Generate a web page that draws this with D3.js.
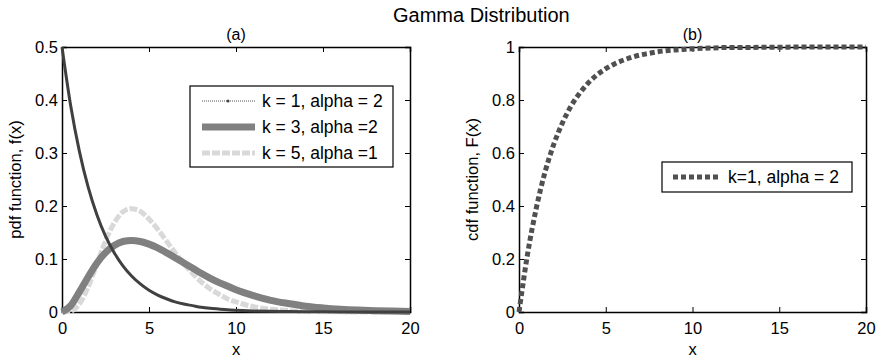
<!DOCTYPE html>
<html>
<head>
<meta charset="utf-8">
<script src="https://cdn.jsdelivr.net/npm/d3@7"></script>
<style>
  body { margin: 0; background: #fff; }
  text { font-family: "Liberation Sans", Arial, sans-serif; fill: #000; }
  .axis path, .axis line { stroke: #000; }
</style>
</head>
<body>
<div id="chart"></div>
<script>
// x samples used for all curves
var xs = [0, 0.5, 1, 1.5, 2, 2.5, 3, 3.5, 4, 4.5, 5, 5.5, 6, 6.5, 7, 7.5, 8, 8.5, 9, 9.5, 10,
          11, 12, 13, 14, 15, 16, 17, 18, 19, 20];

// pdf values
var pdfK1 = [0.5, 0.389, 0.303, 0.236, 0.184, 0.143, 0.112, 0.087, 0.068, 0.053, 0.041, 0.032, 0.025, 0.019, 0.015, 0.012, 0.009, 0.007, 0.0056, 0.0043, 0.0034,
             0.002, 0.0012, 0.0008, 0.0005, 0.0003, 0.0002, 0.0001, 0.0001, 0, 0];
var pdfK3 = [0, 0.012, 0.038, 0.066, 0.092, 0.112, 0.1255, 0.133, 0.135, 0.133, 0.128, 0.121, 0.112, 0.1025, 0.0925, 0.083, 0.073, 0.064, 0.056, 0.049, 0.042,
             0.031, 0.022, 0.016, 0.011, 0.0078, 0.0054, 0.0037, 0.0025, 0.0017, 0.0011];
var pdfK5 = [0, 0.0016, 0.015, 0.047, 0.090, 0.134, 0.168, 0.189, 0.195, 0.190, 0.1755, 0.156, 0.134, 0.112, 0.091, 0.073, 0.057, 0.044, 0.034, 0.025, 0.019,
             0.010, 0.0053, 0.0027, 0.0013, 0.0006, 0.0003, 0.0001, 0, 0, 0];
// cdf values
var cdfK1 = [0, 0.221, 0.393, 0.528, 0.632, 0.713, 0.777, 0.826, 0.865, 0.895, 0.918, 0.936, 0.950, 0.961, 0.970, 0.976, 0.982, 0.986, 0.989, 0.991, 0.993,
             0.996, 0.998, 0.998, 0.999, 0.999, 1, 1, 1, 1, 1];

var pdfLabels = ["k = 1, alpha = 2", "k = 3, alpha =2", "k = 5, alpha =1"];
var cdfLabels = ["k=1, alpha = 2"];
var xTicks = [0, 5, 10, 15, 20];
var pdfTicks = [0, 0.1, 0.2, 0.3, 0.4, 0.5];
var cdfTicks = [0, 0.2, 0.4, 0.6, 0.8, 1];

var W = 881, H = 361;
var svg = d3.select("#chart").append("svg").attr("width", W).attr("height", H);

svg.append("text").attr("x", 393).attr("y", 22)
  .style("font-size", "20px").text("Gamma Distribution");

var pdfStyles = [
  { color: "#404040", width: 3, dash: null },
  { color: "#808080", width: 7, dash: null },
  { color: "#d9d9d9", width: 5, dash: "8,2" }
];

function panel(left, right, top, bottom, yMax, yTicks, title, ylab) {
  var x = d3.scaleLinear().domain([0, 20]).range([left, right]);
  var y = d3.scaleLinear().domain([0, yMax]).range([bottom, top]);
  var fmt = function(d) { return d3.format("~g")(d); };
  svg.append("g").attr("class", "axis").attr("transform", "translate(0," + bottom + ")")
    .call(d3.axisBottom(x).tickValues(xTicks).tickSize(-5).tickPadding(10).tickFormat(fmt));
  svg.append("g").attr("class", "axis").attr("transform", "translate(0," + top + ")")
    .call(d3.axisTop(x).tickValues(xTicks).tickSize(-5).tickFormat(""));
  svg.append("g").attr("class", "axis").attr("transform", "translate(" + left + ",0)")
    .call(d3.axisLeft(y).tickValues(yTicks).tickSize(-5).tickPadding(4).tickFormat(fmt));
  svg.append("g").attr("class", "axis").attr("transform", "translate(" + right + ",0)")
    .call(d3.axisRight(y).tickValues(yTicks).tickSize(-5).tickFormat(""));
  svg.selectAll(".axis text").style("font-size", "16.5px").style("font-family", "Liberation Sans, Arial, sans-serif");
  svg.selectAll(".axis path").attr("stroke-width", 1.5);
  svg.append("text").attr("x", (left + right) / 2).attr("y", top - 7).attr("text-anchor", "middle")
    .style("font-size", "16px").text(title);
  svg.append("text").attr("x", (left + right) / 2).attr("y", bottom + 43).attr("text-anchor", "middle")
    .style("font-size", "16.5px").text("x");
  svg.append("text").attr("transform", "translate(" + (left - 41) + "," + ((top + bottom) / 2) + ") rotate(-90)")
    .attr("text-anchor", "middle").style("font-size", "16.5px").text(ylab);
  return { x: x, y: y };
}

var a = panel(62, 410, 47, 312, 0.5, pdfTicks, "(a)", "pdf function, f(x)");
var b = panel(519, 866, 47, 312, 1, cdfTicks, "(b)", "cdf function, F(x)");

var lineA = d3.line().x(function(d, i) { return a.x(xs[i]); }).y(function(d) { return a.y(d); })
  .curve(d3.curveMonotoneX);
var lineB = d3.line().x(function(d, i) { return b.x(xs[i]); }).y(function(d) { return b.y(d); })
  .curve(d3.curveMonotoneX);

[pdfK5, pdfK3, pdfK1].forEach(function(s, j) {
  var st = pdfStyles[2 - j];
  svg.append("path").datum(s).attr("d", lineA).attr("fill", "none")
    .attr("stroke", st.color).attr("stroke-width", st.width)
    .attr("stroke-dasharray", st.dash);
});

svg.append("path").datum(cdfK1).attr("d", lineB).attr("fill", "none")
  .attr("stroke", "#505050").attr("stroke-width", 5).attr("stroke-dasharray", "5,3");

// legend (a)
var lg = svg.append("g");
lg.append("rect").attr("x", 190).attr("y", 86).attr("width", 203).attr("height", 81)
  .attr("fill", "#fff").attr("stroke", "#000").attr("stroke-width", 1.2);
pdfLabels.forEach(function(t, i) {
  var yy = 101 + i * 26;
  var st = pdfStyles[i];
  if (i === 0) {
    lg.append("line").attr("x1", 202).attr("x2", 255).attr("y1", yy).attr("y2", yy)
      .attr("stroke", "#555").attr("stroke-width", 1).attr("stroke-dasharray", "1,1");
    lg.append("circle").attr("cx", 228).attr("cy", yy).attr("r", 1.5).attr("fill", "#444");
  } else {
    lg.append("line").attr("x1", 202).attr("x2", 255).attr("y1", yy).attr("y2", yy)
      .attr("stroke", st.color).attr("stroke-width", st.width).attr("stroke-dasharray", st.dash);
  }
  lg.append("text").attr("x", 262).attr("y", yy + 6).style("font-size", "17.5px").text(t);
});

// legend (b)
var lb = svg.append("g");
lb.append("rect").attr("x", 662).attr("y", 162).attr("width", 190).attr("height", 30)
  .attr("fill", "#fff").attr("stroke", "#000").attr("stroke-width", 1.2);
lb.append("line").attr("x1", 673).attr("x2", 720).attr("y1", 177).attr("y2", 177)
  .attr("stroke", "#505050").attr("stroke-width", 5).attr("stroke-dasharray", "5,3");
lb.append("text").attr("x", 728).attr("y", 183).style("font-size", "17.5px").text(cdfLabels[0]);
</script>
</body>
</html>
